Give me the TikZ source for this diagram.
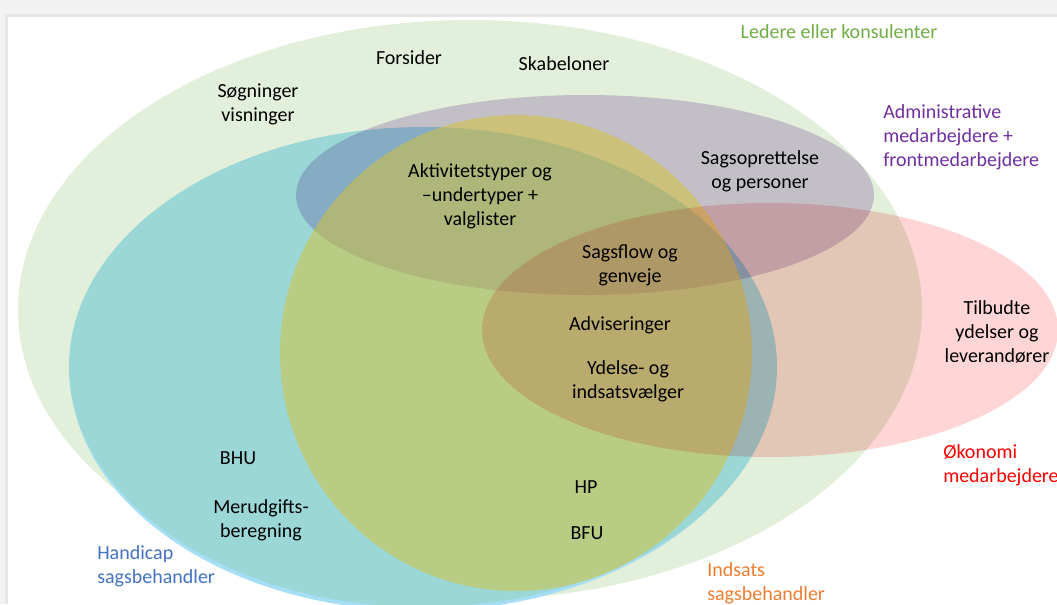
\documentclass[tikz,border=0pt]{standalone}
\usepackage{fontspec}
\setmainfont{Carlito}
\begin{document}
\begin{tikzpicture}[x=0.75pt,y=-0.75pt,
  txt/.style={font=\fontsize{15}{18}\selectfont, align=center, inner sep=0pt},
  grp/.style={txt, align=left, anchor=west}]
   \definecolor{frame}{HTML}{F2F2F2}
   \definecolor{framedark}{HTML}{E6E6E6}
   \definecolor{ledere}{HTML}{E2EFDA}
   \definecolor{rim}{HTML}{A6DEF5}
   \definecolor{handicap}{HTML}{9BD7D6}
   \definecolor{admin}{HTML}{DCCCE8}
   \definecolor{indsats}{HTML}{D7C332}
   \definecolor{okonomi}{HTML}{FFD5D5}
   \definecolor{txtgreen}{HTML}{70AD47}
   \definecolor{txtpurple}{HTML}{7030A0}
   \definecolor{txtblue}{HTML}{4472C4}
   \definecolor{txtorange}{HTML}{ED7D31}
   \useasboundingbox (0,0) rectangle (1057,604);
   \clip (0,0) rectangle (1057,604);
   \fill [frame] (0,0) rectangle (1057,604);
   \fill [framedark] (5,14) rectangle (1057,17);
   \fill [framedark] (5,14) rectangle (8,604);
   \fill [white] (8,17) rectangle (1057,604);
   \fill [ledere] (470,310) ellipse [x radius=452, y radius=290];
   \fill [rim] (421,371) ellipse [x radius=351, y radius=240];
   \fill [handicap] (423,367) ellipse [x radius=354, y radius=240];
   \fill [admin, blend mode=multiply] (585,195) ellipse [x radius=289, y radius=100];
   \fill [indsats, fill opacity=0.5] (516,353) ellipse [x radius=236, y radius=238];
   \fill [okonomi, blend mode=multiply] (770,330) ellipse [x radius=288, y radius=127];
   \node [txt, text=txtgreen] (ledere) at (839,32) {Ledere eller konsulenter};
   \node [grp, text=txtpurple] (admin) at (883,137) {Administrative\\medarbejdere +\\frontmedarbejdere};
   \node [grp, text=red] (okonomi) at (943,465) {Økonomi\\medarbejdere};
   \node [grp, text=txtblue] (handicap) at (97,566) {Handicap\\sagsbehandler};
   \node [grp, text=txtorange] (indsats) at (707,583) {Indsats\\sagsbehandler};
   \node [txt] (forsider) at (409,58) {Forsider};
   \node [txt] (skabeloner) at (564,64) {Skabeloner};
   \node [txt] (sogninger) at (258,104) {Søgninger\\visninger};
   \node [txt] (aktivitet) at (480,196) {Aktivitetstyper og\\–undertyper +\\valglister};
   \node [txt] (sagsopr) at (760,171) {Sagsoprettelse\\og personer};
   \node [txt] (sagsflow) at (630,265) {Sagsflow og\\genveje};
   \node [txt] (advis) at (620,325) {Adviseringer};
   \node [txt] (ydelse) at (628,381) {Ydelse- og\\indsatsvælger};
   \node [txt] (tilbudte) at (997,332) {Tilbudte\\ydelser og\\leverandører};
   \node [txt] (bhu) at (238,458) {BHU};
   \node [txt] (merudg) at (261,520) {Merudgifts-\\beregning};
   \node [txt] (hp) at (586,487) {HP};
   \node [txt] (bfu) at (587,533) {BFU};
\end{tikzpicture}
\end{document}
